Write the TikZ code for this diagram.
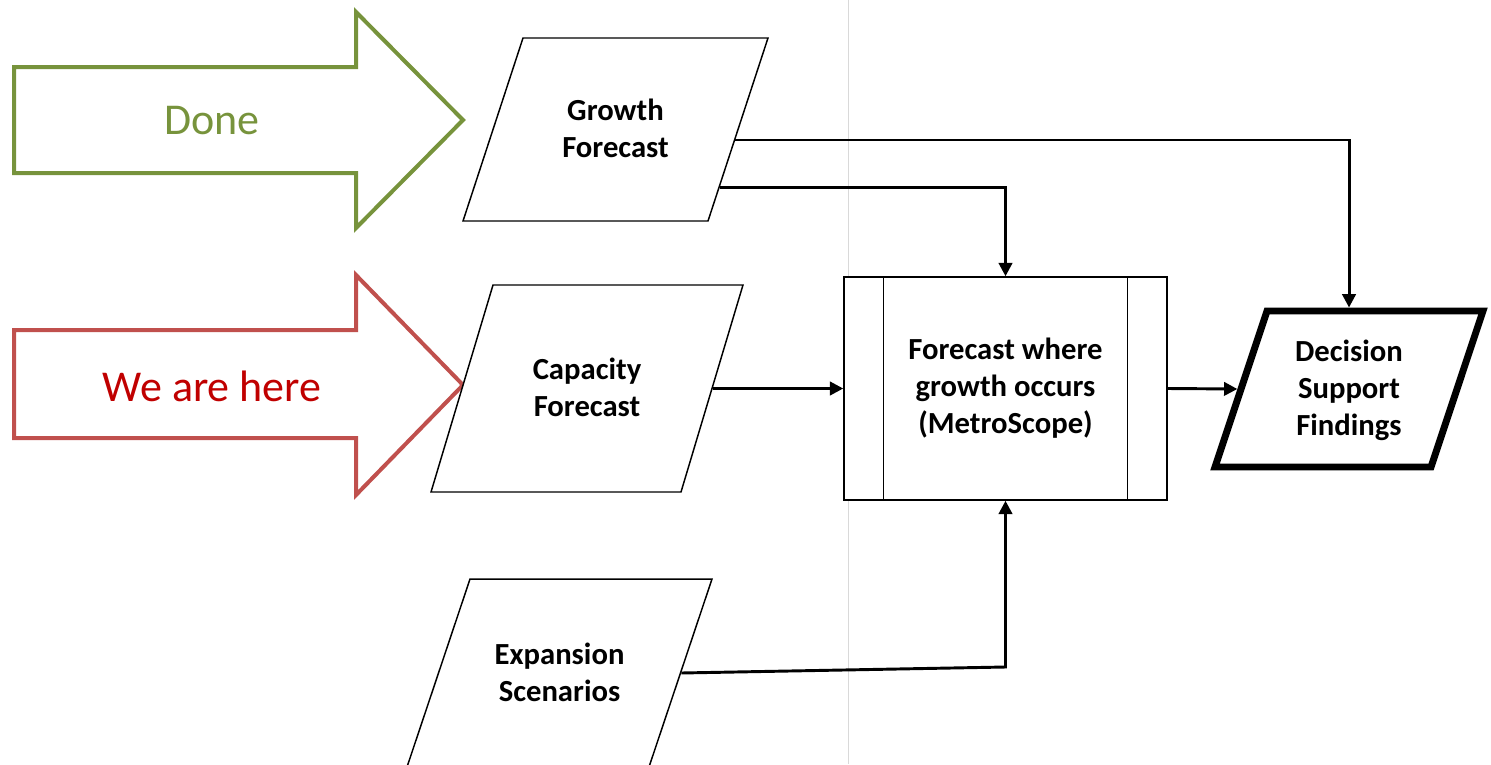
\documentclass[tikz,border=0pt]{standalone}
\usepackage{fontspec}
\setmainfont{Carlito}
\usetikzlibrary{arrows.meta,shapes.geometric}

\definecolor{donegreen}{HTML}{77933C}
\definecolor{hereline}{HTML}{C0504D}
\definecolor{heretext}{HTML}{C00000}

\begin{document}
\begin{tikzpicture}[
  x=0.75pt, y=-0.75pt,
  % text box runs from cap top of the first line to the last baseline
  iobox/.style={trapezium, draw, line width=1.1pt, fill=white, align=center,
               inner xsep=0pt, text height=14.8pt, text depth=27.75pt,
               font=\fontsize{23}{27.75}\selectfont\bfseries},
  slant/.style={trapezium left angle=#1, trapezium right angle=180-#1},
  result/.style={iobox, line width=5.2pt, text depth=55.5pt},
  procbox/.style={draw, rectangle, line width=1.1pt, fill=white, align=center,
               minimum width=242.25pt, minimum height=167.25pt,
               font=\fontsize{23}{27.75}\selectfont\bfseries},
  flow/.style={-{Triangle[length=10pt, width=10pt]}, line width=2.2pt},
  status/.style={line width=3pt, line join=miter},
  statustext/.style={font=\fontsize{33}{40}\selectfont},
]
  \useasboundingbox (0,0) rectangle (1491,764);
  \clip (0,0) rectangle (1491,764);

  % page guide
  \draw[black!15, line width=0.75pt] (848,0) -- (848,764);

  % status arrows on the left
  \draw[status, donegreen] (14,67) -- (356,67) -- (356,12) -- (463,120)
    -- (356,228) -- (356,173) -- (14,173) -- cycle;
  \node[statustext, text=donegreen] (done) at (212,121) {Done};
  \draw[status, hereline] (14,330) -- (356,330) -- (356,275) -- (463,385)
    -- (356,495) -- (356,438) -- (14,438) -- cycle;
  \node[statustext, text=heretext] (here) at (212,386) {We are here};

  % inputs
  \node[iobox, slant=71.85, text width=138.75pt, inner ysep=47.35pt] (gf)
    at (615.5,129.5) {Growth\\ Forecast};
  \node[iobox, slant=73.33, text width=141pt, inner ysep=56.35pt] (cf)
    at (587,388.5) {Capacity\\ Forecast};
  \node[iobox, slant=71.47, text width=134.25pt, inner ysep=49.2pt] (es)
    at (559.5,673) {Expansion\\ Scenarios};

  % model run and output
  \node[procbox] (proc) at (1005.5,388.5)
    {Forecast where\\ growth occurs\\ (MetroScope)};
  \draw[line width=1.1pt] ([xshift=30pt]proc.north west) -- ([xshift=30pt]proc.south west);
  \draw[line width=1.1pt] ([xshift=-30pt]proc.north east) -- ([xshift=-30pt]proc.south east);
  \node[result, slant=71.57, text width=123pt, inner ysep=23.35pt] (dec)
    at (1349,389) {Decision\\ Support\\ Findings};

  % connectors
  \draw[flow] (gf.-5.5) -| (dec.north);
  \draw[flow] (gf.-29.5) -| (proc.north);
  \draw[flow] (cf.east) -- (proc.west);
  \draw[flow] (proc.east) -- (dec.west);
  \coordinate (bend) at (1005.5,667);
  \draw[flow] (es.east) -- (bend) -- (proc.south);
\end{tikzpicture}
\end{document}
